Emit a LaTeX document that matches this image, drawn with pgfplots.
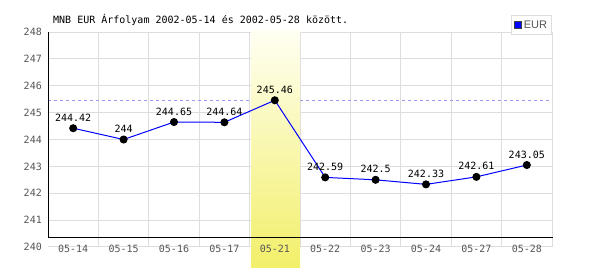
\documentclass[border=0pt]{standalone}
\usepackage{pgfplots}
\pgfplotsset{compat=1.18}
\usepackage{fontspec}
\setmainfont{DejaVu Sans Mono}
\newfontfamily\legfont{Liberation Sans}
\definecolor{gridc}{HTML}{DDDDDD}
\definecolor{tickc}{HTML}{555555}
\definecolor{dashc}{HTML}{9999EE}
\definecolor{hlc}{RGB}{242,239,105}
\definecolor{hltop}{RGB}{255,255,242}
\begin{document}
\begin{tikzpicture}
\begin{axis}[
  set layers,
  at={(48pt,23pt)}, anchor=south west,
  scale only axis, width=504pt, height=215pt,
  xmin=0, xmax=10, ymin=240, ymax=248,
  clip=false,
  axis line style={draw=none},
  xtick={1,...,10}, xticklabels={},
  extra x ticks={0.5,1.5,...,9.5},
  extra x tick labels={05-14,05-15,05-16,05-17,05-21,05-22,05-23,05-24,05-27,05-28},
  extra x tick style={grid=none, major tick length=0pt},
  ytick={240,...,248},
  grid=major,
  major grid style={gridc, line width=1pt},
  major tick length=0pt,
  tick label style={font=\fontsize{10}{12}\selectfont, text=tickc},
  xticklabel style={anchor=center, yshift=-2pt, inner sep=0pt},
  yticklabel style={anchor=east, inner sep=0pt, xshift=-6pt},
  /pgf/number format/assume math mode=true,
  legend style={at={(axis cs:10,248)}, anchor=south east, yshift=-3pt,
    draw=gridc, line width=1pt, inner xsep=2.5pt, inner ysep=3pt,
    font=\legfont\fontsize{11}{12}\selectfont, text=tickc,
    /tikz/every even column/.append style={column sep=2pt}},
  legend cell align=left,
]
\begin{pgfonlayer}{axis grid}
\draw[dashc, dash pattern=on 3pt off 3pt, line width=1pt] (axis cs:0,245.46) -- (axis cs:9.94,245.46);
\shade[top color=hltop, bottom color=hlc] (axis cs:4.03,239.22) rectangle (axis cs:5,248.05);
\end{pgfonlayer}
\draw[black, line width=1pt] (axis cs:0,248) -- (axis cs:0,240.335) -- (axis cs:10.02,240.335);
\addplot[blue, line width=1pt, mark=*, mark size=3.5pt, mark options={fill=black, draw=black},
  point meta=explicit symbolic,
  nodes near coords,
  nodes near coords style={anchor=base, yshift=7pt, inner sep=0pt, font=\fontsize{10}{12}\selectfont, text=black},
  legend image code/.code={\fill[blue, draw=darkgray, line width=0.7pt] (0pt,-3.5pt) rectangle (7pt,3.5pt);}
] coordinates {
  (0.5,244.42) [244.42]
  (1.5,244) [244]
  (2.5,244.65) [244.65]
  (3.5,244.64) [244.64]
  (4.5,245.46) [245.46]
  (5.5,242.59) [242.59]
  (6.5,242.5) [242.5]
  (7.5,242.33) [242.33]
  (8.5,242.61) [242.61]
  (9.5,243.05) [243.05]
};
\addlegendentry{EUR}
\end{axis}
\node[anchor=base west, inner sep=0pt, font=\fontsize{10}{12}\selectfont, text=black] at (53pt,246pt) {MNB EUR Árfolyam 2002-05-14 és 2002-05-28 között.};
\pgfresetboundingbox
\useasboundingbox (0,0) rectangle (600pt,270pt);
\end{tikzpicture}
\end{document}
